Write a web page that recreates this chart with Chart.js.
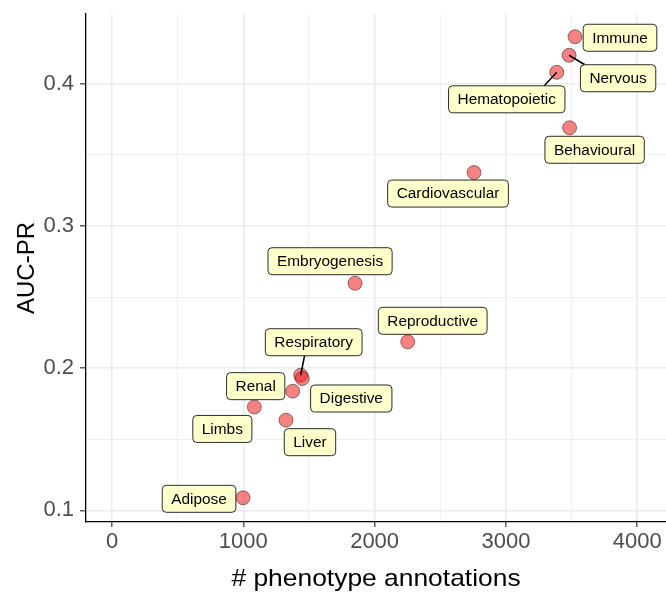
<!DOCTYPE html>
<html lang="en">
<head>
<meta charset="UTF-8">
<title>AUC-PR vs phenotype annotations</title>
<script src="https://cdn.jsdelivr.net/npm/chart.js"></script>
<style>
  body { margin: 0; background: #fff; }
  #wrap { width: 666px; height: 593px; }
</style>
</head>
<body>
<div id="wrap"><canvas id="scatter"></canvas></div>
<script>
const systems = ['Immune', 'Nervous', 'Hematopoietic', 'Behavioural', 'Cardiovascular', 'Embryogenesis',
                 'Reproductive', 'Respiratory', 'Digestive', 'Renal', 'Limbs', 'Liver', 'Adipose'];
const annotations = [3526, 3481, 3387, 3485, 2757, 1851, 2252, 1437, 1449, 1376, 1084, 1325, 998];
const aucPR = [0.433, 0.420, 0.408, 0.369, 0.3375, 0.2597, 0.2185, 0.195, 0.1927, 0.1838, 0.1727, 0.1634, 0.1088];

const xTicks = [0, 1000, 2000, 3000, 4000];
const xMinor = [500, 1500, 2500, 3500];
const yTicks = [0.1, 0.2, 0.3, 0.4];
const yMinor = [0.15, 0.25, 0.35];
const xTitle = '# phenotype annotations';

// label box centre relative to its point (px), and whether a leader segment is drawn
const labelOffsets = [
  [45, 1, false], [49, 23, true], [-50, 27, true], [25, 22, false], [-26, 21, false],
  [-25, -22, false], [25, -21, false], [13, -33, true], [49, 20, false], [-37, -5, false],
  [-32, 22, false], [24, 22, false], [-44, 1, false]
];

const FONT = '"Liberation Sans", Arial, Helvetica, sans-serif';
const STRETCH = 1.1;   // text in this figure is set slightly wide

const isIn = (list, v) => list.some(t => Math.abs(t - v) < 1e-9);
const clamp = (v, lo, hi) => Math.max(lo, Math.min(hi, v));

// ggrepel-style boxed labels plus the wide x-axis title
const boxLabels = {
  id: 'boxLabels',
  afterDatasetsDraw(chart) {
    const ctx = chart.ctx;
    const pts = chart.getDatasetMeta(0).data;
    ctx.save();
    ctx.font = '14px ' + FONT;
    pts.forEach((pt, i) => {
      const [dx, dy, seg] = labelOffsets[i];
      const w = ctx.measureText(systems[i]).width * STRETCH + 18;
      const h = 27;
      const cx = pt.x + dx, cy = pt.y + dy;
      if (seg) {
        // end halfway between the nearest box point and where the centre line hits the edge
        const t = Math.min((w / 2) / Math.abs(dx), (h / 2) / Math.abs(dy));
        const ex = cx - dx * t, ey = cy - dy * t;
        const nx = clamp(pt.x, cx - w / 2, cx + w / 2), ny = clamp(pt.y, cy - h / 2, cy + h / 2);
        ctx.beginPath();
        ctx.moveTo(pt.x, pt.y);
        ctx.lineTo((ex + nx) / 2, (ey + ny) / 2);
        ctx.strokeStyle = '#000';
        ctx.lineWidth = 1.5;
        ctx.stroke();
      }
      ctx.beginPath();
      ctx.roundRect(cx - w / 2, cy - h / 2, w, h, 4);
      ctx.fillStyle = '#FFFFCC';
      ctx.fill();
      ctx.strokeStyle = '#2b2b2b';
      ctx.lineWidth = 1;
      ctx.stroke();
      ctx.save();
      ctx.translate(cx, cy + 1);
      ctx.scale(STRETCH, 1);
      ctx.fillStyle = '#000';
      ctx.textAlign = 'center';
      ctx.textBaseline = 'middle';
      ctx.fillText(systems[i], 0, 0);
      ctx.restore();
    });
    ctx.restore();
  },
  afterDraw(chart) {
    const ctx = chart.ctx;
    const area = chart.chartArea;
    ctx.save();
    ctx.translate((area.left + area.right) / 2, 579);
    ctx.scale(STRETCH, 1);
    ctx.font = '24px ' + FONT;
    ctx.fillStyle = '#000';
    ctx.textAlign = 'center';
    ctx.textBaseline = 'middle';
    ctx.fillText(xTitle, 0, 0);
    ctx.restore();
  }
};

function gridFor(major) {
  return {
    color: '#EBEBEB',
    lineWidth: c => (c.tick && isIn(major, c.tick.value)) ? 1.6 : 0.8,
    tickColor: c => (c.tick && isIn(major, c.tick.value)) ? '#333333' : 'rgba(0,0,0,0)',
    tickWidth: 1.2,
    drawTicks: true
  };
}

function noEdgePadding(s) {
  s.paddingTop = 0;
  s.paddingBottom = 0;
  s.paddingLeft = 0;
  s.paddingRight = 0;
}

new Chart(document.getElementById('scatter'), {
  type: 'scatter',
  data: {
    datasets: [{
      data: annotations.map((x, i) => ({ x: x, y: aucPR[i] })),
      backgroundColor: 'rgba(240,40,40,0.58)',
      borderColor: 'rgba(0,0,0,0.45)',
      borderWidth: 1,
      pointRadius: 7,
      pointHoverRadius: 7
    }]
  },
  options: {
    responsive: true,
    maintainAspectRatio: false,
    animation: false,
    layout: { autoPadding: false, padding: { top: 14, right: 0, left: 0, bottom: 0 } },
    plugins: { legend: { display: false }, tooltip: { enabled: false } },
    scales: {
      x: {
        type: 'linear',
        min: -198,
        max: 4219,
        afterBuildTicks: s => { s.ticks = xTicks.concat(xMinor).sort((a, b) => a - b).map(v => ({ value: v })); },
        afterFit: s => { s.height = 71; noEdgePadding(s); },
        grid: Object.assign(gridFor(xTicks), { tickLength: 5 }),
        border: { display: true, color: '#000', width: 1.3 },
        ticks: {
          autoSkip: false,
          maxRotation: 0,
          padding: 2,
          color: '#4D4D4D',
          font: { family: FONT, size: 22 },
          callback: v => isIn(xTicks, v) ? String(v) : ''
        },
        title: { display: false }
      },
      y: {
        type: 'linear',
        min: 0.0918,
        max: 0.449,
        afterBuildTicks: s => { s.ticks = yTicks.concat(yMinor).sort((a, b) => a - b).map(v => ({ value: v })); },
        afterFit: s => { s.width = 86; noEdgePadding(s); },
        grid: Object.assign(gridFor(yTicks), { tickLength: 6 }),
        border: { display: true, color: '#000', width: 1.3 },
        ticks: {
          autoSkip: false,
          padding: 6,
          color: '#4D4D4D',
          font: { family: FONT, size: 22 },
          callback: v => isIn(yTicks, v) ? v.toFixed(1) : ''
        },
        title: {
          display: true,
          text: 'AUC-PR',
          color: '#000',
          font: { family: FONT, size: 24 },
          padding: { top: 13, bottom: 0 }
        }
      }
    }
  },
  plugins: [boxLabels]
});
</script>
</body>
</html>
